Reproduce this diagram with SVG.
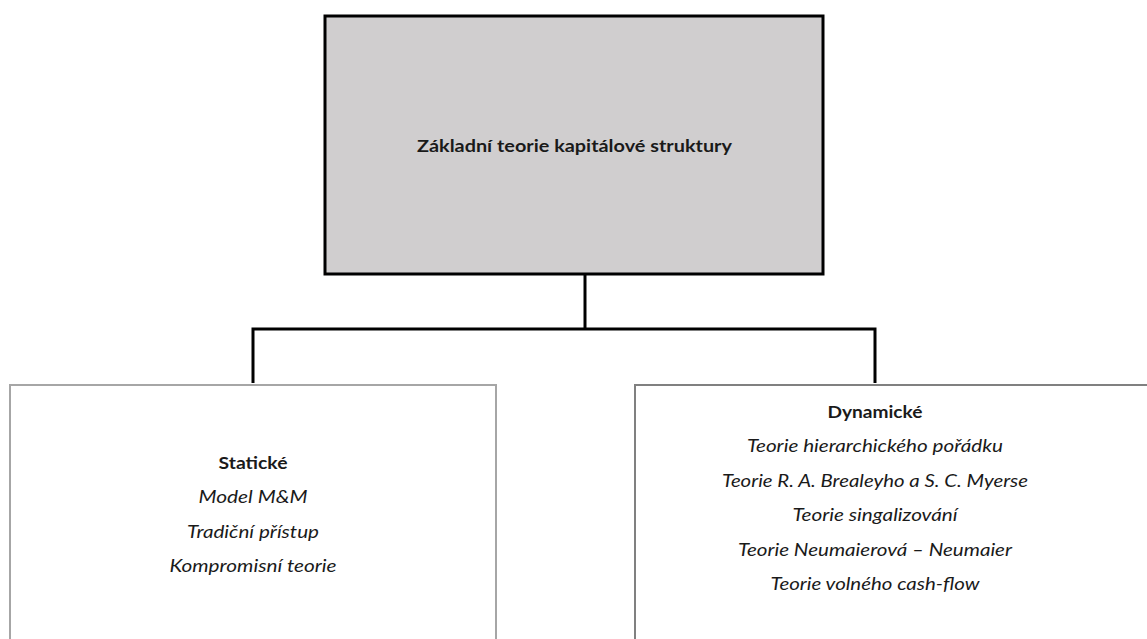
<svg xmlns="http://www.w3.org/2000/svg" width="1147" height="639" viewBox="0 0 1147 639">
<style>
.t{font-family:Lato,"Open Sans","Liberation Sans",sans-serif;font-size:17.5px;fill:#1a1a1a;text-anchor:middle}
.b{font-weight:bold}
.i{font-style:italic}
.conn{fill:none;stroke:#000;stroke-width:3}
</style>
<rect width="1147" height="639" fill="#fff"/>
<g id="connectors">
<path class="conn" d="M585 275 V329"/>
<path class="conn" d="M253 383 V329 H875 V383"/>
</g>
<g id="root">
<rect x="325" y="16" width="498" height="258" fill="#d0cecf" stroke="#000" stroke-width="3"/>
<text class="t b" x="574.5" y="152" textLength="315" lengthAdjust="spacingAndGlyphs">Základní teorie kapitálové struktury</text>
</g>
<g id="staticke">
<rect x="10" y="385" width="486" height="270" fill="#fff" stroke="#a6a6a6" stroke-width="2"/>
<text class="t b" x="253" y="469" textLength="69" lengthAdjust="spacingAndGlyphs">Statické</text>
<text class="t i" x="253" y="503" textLength="109" lengthAdjust="spacingAndGlyphs">Model M&amp;M</text>
<text class="t i" x="253" y="538" textLength="132" lengthAdjust="spacingAndGlyphs">Tradiční přístup</text>
<text class="t i" x="253" y="572" textLength="167" lengthAdjust="spacingAndGlyphs">Kompromisní teorie</text>
</g>
<g id="dynamicke">
<rect x="635" y="385" width="530" height="270" fill="#fff" stroke="#808080" stroke-width="2"/>
<text class="t b" x="875" y="418" textLength="95" lengthAdjust="spacingAndGlyphs">Dynamické</text>
<text class="t i" x="875" y="452" textLength="256" lengthAdjust="spacingAndGlyphs">Teorie hierarchického pořádku</text>
<text class="t i" x="875" y="487" textLength="306" lengthAdjust="spacingAndGlyphs">Teorie R. A. Brealeyho a S. C. Myerse</text>
<text class="t i" x="875" y="521" textLength="165" lengthAdjust="spacingAndGlyphs">Teorie singalizování</text>
<text class="t i" x="875" y="556" textLength="274" lengthAdjust="spacingAndGlyphs">Teorie Neumaierová – Neumaier</text>
<text class="t i" x="875" y="590" textLength="209" lengthAdjust="spacingAndGlyphs">Teorie volného cash-flow</text>
</g>
</svg>
